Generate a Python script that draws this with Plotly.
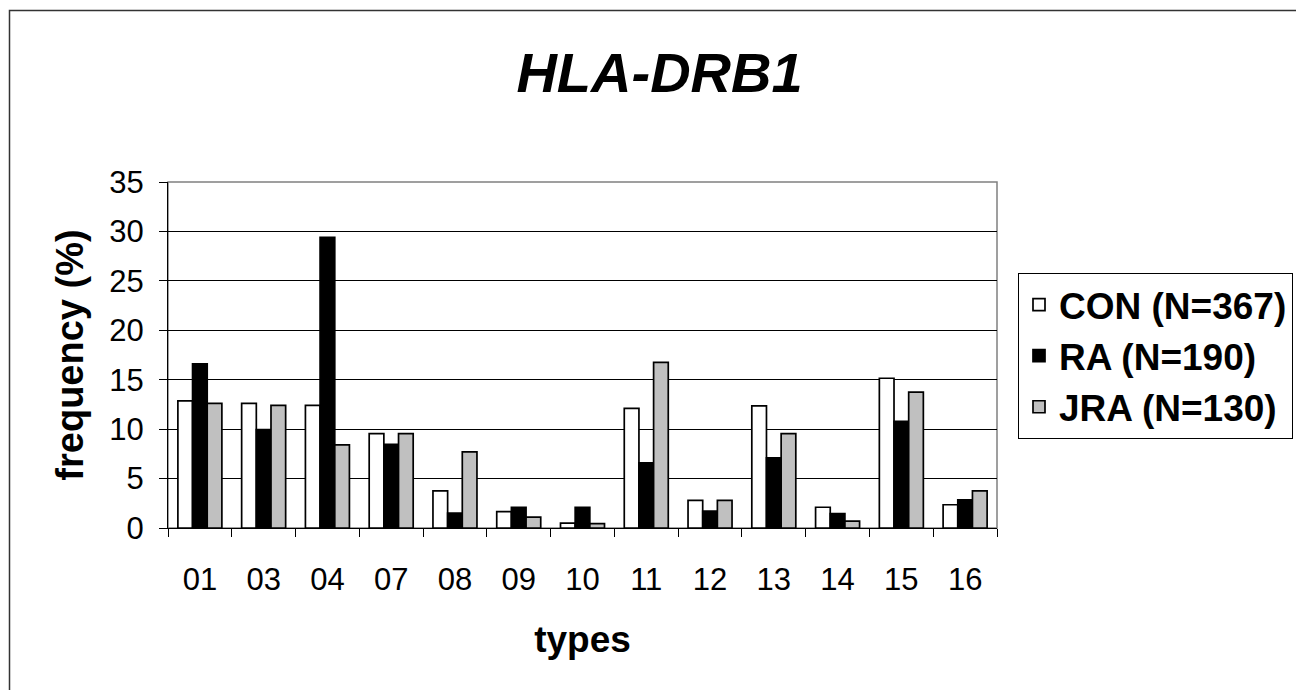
import plotly.graph_objects as go

types = ["01", "03", "04", "07", "08", "09", "10", "11", "12", "13", "14", "15", "16"]
con = [12.85, 12.6, 12.4, 9.55, 3.75, 1.65, 0.5, 12.1, 2.8, 12.35, 2.1, 15.15, 2.35]
ra = [16.6, 9.95, 29.4, 8.45, 1.5, 2.1, 2.1, 6.6, 1.7, 7.1, 1.45, 10.8, 2.85]
jra = [12.6, 12.4, 8.4, 9.55, 7.7, 1.1, 0.45, 16.75, 2.8, 9.55, 0.7, 13.75, 3.75]

series_names = ["CON (N=367)", "RA (N=190)", "JRA (N=130)"]
series_colors = ["#ffffff", "#000000", "#c0c0c0"]
y_ticks = [0, 5, 10, 15, 20, 25, 30, 35]

FONT = "Liberation Sans, Arial, sans-serif"

fig = go.Figure()
for name, vals, col in zip(series_names, [con, ra, jra], series_colors):
    fig.add_trace(go.Bar(
        x=types, y=vals, name=name,
        marker=dict(color=col, line=dict(color="#000000", width=1.7)),
    ))

# page has an 8px body margin; figure coordinates are screen - 8
W, H = 1304, 690
L, R, T, B = 160, 315, 174, 170
pw, ph = W - L - R, H - T - B

def px_x(p):
    return (p - L) / pw

def px_y(p):
    return (H - B - p) / ph

fig.update_layout(
    width=W, height=H,
    margin=dict(l=L, r=R, t=T, b=B, pad=0, autoexpand=False),
    paper_bgcolor="white", plot_bgcolor="white",
    barmode="group", bargap=0.31, bargroupgap=0,
    font=dict(family=FONT, color="black"),
    title=dict(
        text="<b><i>HLA-DRB1</i></b>",
        font=dict(family=FONT, size=56, color="black"),
        x=651.5 / W, xanchor="center",
        y=1 - 64 / H, yanchor="middle",
    ),
    legend=dict(
        x=px_x(1010), xanchor="left",
        y=px_y(265), yanchor="top",
        font=dict(family=FONT, size=37, color="black", weight="bold"),
        bordercolor="#000000", borderwidth=1,
        bgcolor="white",
        tracegroupgap=0, itemwidth=30,
    ),
    xaxis=dict(
        type="category",
        tickfont=dict(family=FONT, size=31, color="black"),
        showline=True, linecolor="black", linewidth=1,
        ticks="outside", ticklen=8, tickcolor="black", tickwidth=1,
        tickson="boundaries",
        showgrid=False,
        ticklabelstandoff=24,
        title=dict(text="<b>types</b>", font=dict(family=FONT, size=37, color="black"), standoff=29),
    ),
    yaxis=dict(
        range=[0, 35],
        tickvals=y_ticks,
        tickfont=dict(family=FONT, size=31, color="black"),
        showline=True, linecolor="black", linewidth=1,
        ticks="outside", ticklen=8, tickcolor="black", tickwidth=1,
        showgrid=True, gridcolor="black", gridwidth=1,
        zeroline=False,
        ticklabelstandoff=9,
        title=dict(text="<b>frequency (%)</b>", font=dict(family=FONT, size=38, color="black"), standoff=14),
    ),
    shapes=[
        dict(type="rect", xref="paper", yref="paper", x0=0, x1=1, y0=0, y1=1,
             line=dict(color="#808080", width=1.5), layer="below"),
        dict(type="rect", xref="paper", yref="paper",
             x0=px_x(1.5), x1=px_x(1330), y0=px_y(2.5), y1=px_y(720),
             line=dict(color="#333333", width=1.5), layer="above"),
    ],
)

fig.write_html("out.html")
